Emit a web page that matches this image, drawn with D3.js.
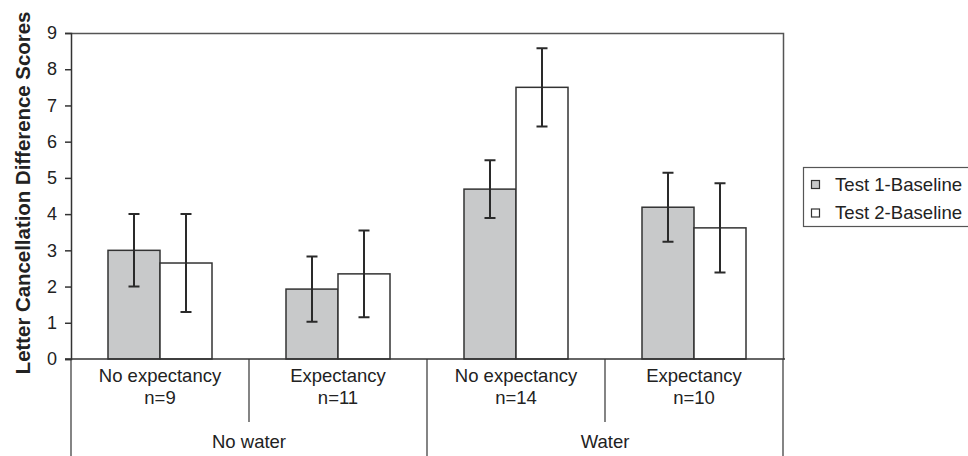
<!DOCTYPE html>
<html>
<head>
<meta charset="utf-8">
<script src="https://cdn.jsdelivr.net/npm/d3@7"></script>
<style>
  body { margin: 0; background: #fff; }
  text { font-family: "Liberation Sans", Arial, sans-serif; fill: #222; }
</style>
</head>
<body>
<svg></svg>
<script>
// data
var groups = ['No water', 'Water']
var conditions = ['No expectancy', 'Expectancy', 'No expectancy', 'Expectancy']
var sizes = ['n=9', 'n=11', 'n=14', 'n=10']
var series = ['Test 1-Baseline', 'Test 2-Baseline']
var test1 = [3.0, 1.93, 4.69, 4.19]
var test2 = [2.65, 2.35, 7.5, 3.62]
var test1Err = [1.0, 0.9, 0.8, 0.95]
var test2Err = [1.35, 1.2, 1.08, 1.23]
var yTicks = [0, 1, 2, 3, 4, 5, 6, 7, 8, 9]

var width = 968
var height = 456
// plot box (note: "top" is reserved on window, so prefix)
var pLeft = 71, pRight = 783, pTop = 33, pBottom = 359
var ink = '#333'

var svg = d3.select('svg').attr('width', width).attr('height', height)

var cells = conditions.map(function (c, i) { return 'c' + i })

var x = d3.scaleBand().domain(cells).range([pLeft, pRight])
var xInner = d3.scaleBand().domain(series).range([0, x.bandwidth()])
  .paddingInner(0).paddingOuter(0.7115)
var y = d3.scaleLinear().domain([0, 9]).range([pBottom, pTop])

var rows = cells.map(function (c, i) {
  return [
    { cell: c, s: series[0], v: test1[i], e: test1Err[i] },
    { cell: c, s: series[1], v: test2[i], e: test2Err[i] }
  ]
})
var fills = { 'Test 1-Baseline': '#c8c9ca', 'Test 2-Baseline': '#fff' }

// frame (top + right)
svg.append('path')
  .attr('d', 'M' + pLeft + ',' + (pTop + 0.5) + 'H' + (pRight + 0.5) + 'V' + pBottom)
  .attr('fill', 'none').attr('stroke', '#555').attr('stroke-width', 1.5)

// bars
var barG = svg.append('g').selectAll('g').data(rows).enter().append('g')
barG.selectAll('rect').data(function (d) { return d }).enter().append('rect')
  .attr('x', function (d) { return x(d.cell) + xInner(d.s) })
  .attr('y', function (d) { return y(d.v) })
  .attr('width', xInner.bandwidth())
  .attr('height', function (d) { return y(0) - y(d.v) })
  .attr('fill', function (d) { return fills[d.s] })
  .attr('stroke', ink).attr('stroke-width', 1.5)

// error bars
var errG = svg.append('g').selectAll('g').data(rows).enter().append('g')
errG.selectAll('path').data(function (d) { return d }).enter().append('path')
  .attr('d', function (d) {
    var cx = x(d.cell) + xInner(d.s) + xInner.bandwidth() / 2
    var y1 = y(d.v + d.e), y2 = y(d.v - d.e)
    return 'M' + (cx - 5.5) + ',' + y1 + 'H' + (cx + 5.5) +
      'M' + cx + ',' + y1 + 'V' + y2 +
      'M' + (cx - 5.5) + ',' + y2 + 'H' + (cx + 5.5)
  })
  .attr('fill', 'none').attr('stroke', '#2a2a2a').attr('stroke-width', 2)

// y axis
var yAxis = svg.append('g').attr('transform', 'translate(' + pLeft + ',0)')
  .call(d3.axisLeft(y).tickValues(yTicks).tickSize(6).tickPadding(8).tickFormat(d3.format('d')))
yAxis.select('.domain').attr('stroke', ink).attr('stroke-width', 1.5)
yAxis.selectAll('.tick line').attr('stroke', ink).attr('stroke-width', 1.5)
yAxis.selectAll('.tick text').attr('font-size', 18).attr('fill', '#222')
  .attr('font-family', '"Liberation Sans", Arial, sans-serif')

// baseline
svg.append('line')
  .attr('x1', pLeft - 6).attr('x2', pRight + 2)
  .attr('y1', y(0)).attr('y2', y(0))
  .attr('stroke', ink).attr('stroke-width', 1.5)

// category table below the axis
var divG = svg.append('g').attr('stroke', ink).attr('stroke-width', 1.2)
cells.forEach(function (c, i) {
  var x0 = x(c)
  var full = i % 2 === 0
  divG.append('line').attr('x1', x0).attr('x2', x0)
    .attr('y1', pBottom).attr('y2', full ? height : 422)
})
divG.append('line').attr('x1', pRight).attr('x2', pRight).attr('y1', pBottom).attr('y2', height)

var catG = svg.append('g').attr('text-anchor', 'middle').attr('font-size', 18.5)
cells.forEach(function (c, i) {
  var cx = x(c) + x.bandwidth() / 2
  catG.append('text').attr('x', cx).attr('y', 382).text(conditions[i])
  catG.append('text').attr('x', cx).attr('y', 404).text(sizes[i])
})
groups.forEach(function (g, i) {
  var cx = (x(cells[i * 2]) + x(cells[i * 2 + 1]) + x.bandwidth()) / 2
  catG.append('text').attr('x', cx).attr('y', 448).text(g)
})

// y title
svg.append('text')
  .attr('transform', 'translate(30,' + ((pTop + pBottom) / 2 - 3) + ') rotate(-90)')
  .attr('text-anchor', 'middle').attr('font-size', 20.4).attr('font-weight', 'bold')
  .text('Letter Cancellation Difference Scores')

// legend
var lg = svg.append('g')
lg.append('rect').attr('x', 803.5).attr('y', 167.5).attr('width', 180).attr('height', 59)
  .attr('fill', '#fff').attr('stroke', '#555').attr('stroke-width', 1.2)
series.forEach(function (s, i) {
  var ly = 180 + i * 28.5
  lg.append('rect').attr('x', 811.5).attr('y', ly + 0.5).attr('width', 8).attr('height', 8)
    .attr('fill', fills[s]).attr('stroke', ink).attr('stroke-width', 1.2)
  lg.append('text').attr('x', 835).attr('y', ly + 10.5).attr('font-size', 18.6).text(s)
})
</script>
</body>
</html>
